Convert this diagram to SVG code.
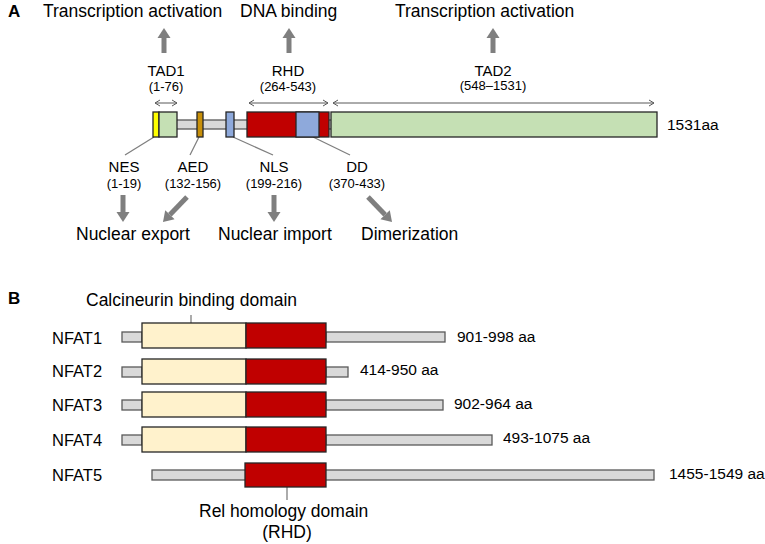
<svg xmlns="http://www.w3.org/2000/svg" width="765" height="544" viewBox="0 0 765 544">
<style>
text{font-family:"Liberation Sans",Arial,sans-serif;fill:#000}
.big{font-size:17.5px}
.lab{font-size:15px;text-anchor:middle}
.rng{font-size:13px;text-anchor:middle}
.pl{font-size:17px;font-weight:bold}
.nf{font-size:16.5px}
.aa{font-size:15.5px}
.box{stroke:#262626;stroke-width:1.3}
.bar{fill:#D9D9D9;stroke:#595959;stroke-width:1.3}
.lead{stroke:#7F7F7F;stroke-width:1.3;fill:none}
.fat{stroke:#7F7F7F;stroke-width:5;fill:none;marker-end:url(#head)}
.thin{stroke:#595959;stroke-width:1;fill:none;marker-start:url(#open);marker-end:url(#open)}
</style>
<defs>
<marker id="head" markerUnits="userSpaceOnUse" markerWidth="11" markerHeight="14" refX="0" refY="6.5" orient="auto" overflow="visible"><path d="M0,0 L10,6.5 L0,13 Z" fill="#7F7F7F"/></marker>
<marker id="open" markerUnits="userSpaceOnUse" markerWidth="8" markerHeight="8" refX="5" refY="3" orient="auto-start-reverse" overflow="visible"><path d="M0,0 L5,3 L0,6" fill="none" stroke="#595959" stroke-width="1"/></marker>
</defs>

<!-- Panel A -->
<text class="pl" x="8" y="17">A</text>
<text class="big" x="43" y="17">Transcription activation</text>
<text class="big" x="240" y="17">DNA binding</text>
<text class="big" x="395" y="17">Transcription activation</text>

<g id="connectors">
<line class="fat" x1="164" y1="53" x2="164" y2="38"/>
<line class="fat" x1="289" y1="53" x2="289" y2="38"/>
<line class="fat" x1="493" y1="53" x2="493" y2="38"/>
<line class="fat" x1="123" y1="195" x2="123" y2="212"/>
<line class="fat" x1="274" y1="195" x2="274" y2="212"/>
<line class="fat" x1="187" y1="197" x2="169.9" y2="214.8"/>
<line class="fat" x1="368" y1="197" x2="385.1" y2="214.8"/>
<line class="thin" x1="155" y1="103" x2="177" y2="103"/>
<line class="thin" x1="249" y1="103" x2="328" y2="103"/>
<line class="thin" x1="333" y1="103" x2="654" y2="103"/>
<line class="lead" x1="154" y1="137" x2="125" y2="155"/>
<line class="lead" x1="199" y1="137" x2="190" y2="155"/>
<line class="lead" x1="233" y1="137" x2="273" y2="155"/>
<line class="lead" x1="313" y1="137" x2="350" y2="155"/>
<line class="lead" x1="191" y1="315" x2="191" y2="323"/>
<line class="lead" x1="287" y1="487" x2="287" y2="500"/>
</g>

<g id="tad1-label"><text class="lab" x="166" y="76">TAD1</text><text class="rng" x="166" y="91">(1-76)</text></g>
<g id="rhd-label"><text class="lab" x="288" y="76">RHD</text><text class="rng" x="288" y="91">(264-543)</text></g>
<g id="tad2-label"><text class="lab" x="493" y="76">TAD2</text><text class="rng" x="493" y="90">(548–1531)</text></g>

<g id="protein-a">
<rect class="bar" x="176" y="120" width="72" height="9"/>
<rect class="bar" x="328" y="120" width="4" height="9"/>
<rect class="box" x="153" y="112" width="6" height="25" fill="#FFFF00"/>
<rect class="box" x="159" y="112" width="18" height="25" fill="#C5E0B4"/>
<rect class="box" x="197" y="112" width="6" height="25" fill="#C8900A"/>
<rect class="box" x="226" y="112" width="8" height="25" fill="#8EA9DB"/>
<rect class="box" x="247" y="112" width="82" height="25" fill="#C00000"/>
<rect class="box" x="296" y="112" width="23" height="25" fill="#8EA9DB"/>
<rect class="box" x="331" y="112" width="326" height="25" fill="#C5E0B4"/>
<text class="aa" x="667" y="130">1531aa</text>
</g>

<g id="nes"><text class="lab" x="124" y="172">NES</text><text class="rng" x="124" y="188">(1-19)</text></g>
<g id="aed"><text class="lab" x="193" y="172">AED</text><text class="rng" x="193" y="188">(132-156)</text></g>
<g id="nls"><text class="lab" x="274" y="172">NLS</text><text class="rng" x="274" y="188">(199-216)</text></g>
<g id="dd"><text class="lab" x="357" y="172">DD</text><text class="rng" x="357" y="188">(370-433)</text></g>

<text class="big" x="76" y="240">Nuclear export</text>
<text class="big" x="218" y="240">Nuclear import</text>
<text class="big" x="361" y="240">Dimerization</text>

<!-- Panel B -->
<text class="pl" x="8" y="304">B</text>
<text class="big" x="86" y="306">Calcineurin binding domain</text>

<g id="nfat1">
<rect class="bar" x="122" y="332" width="20" height="10"/>
<rect class="bar" x="326" y="332" width="119" height="10"/>
<rect class="box" x="142" y="323" width="104" height="25" fill="#FFF2CC"/>
<rect class="box" x="246" y="323" width="80" height="25" fill="#C00000"/>
<text class="nf" x="52" y="344">NFAT1</text>
<text class="aa" x="457" y="342">901-998 aa</text>
</g>
<g id="nfat2">
<rect class="bar" x="122" y="367" width="20" height="10"/>
<rect class="bar" x="326" y="367" width="22" height="10"/>
<rect class="box" x="142" y="359" width="104" height="25" fill="#FFF2CC"/>
<rect class="box" x="246" y="359" width="80" height="25" fill="#C00000"/>
<text class="nf" x="52" y="377">NFAT2</text>
<text class="aa" x="360" y="375">414-950 aa</text>
</g>
<g id="nfat3">
<rect class="bar" x="122" y="400" width="20" height="10"/>
<rect class="bar" x="326" y="400" width="117" height="10"/>
<rect class="box" x="142" y="392" width="104" height="25" fill="#FFF2CC"/>
<rect class="box" x="246" y="392" width="80" height="25" fill="#C00000"/>
<text class="nf" x="52" y="411">NFAT3</text>
<text class="aa" x="454" y="409">902-964 aa</text>
</g>
<g id="nfat4">
<rect class="bar" x="122" y="435" width="20" height="10"/>
<rect class="bar" x="326" y="435" width="166" height="10"/>
<rect class="box" x="142" y="427" width="104" height="25" fill="#FFF2CC"/>
<rect class="box" x="246" y="427" width="80" height="25" fill="#C00000"/>
<text class="nf" x="52" y="446">NFAT4</text>
<text class="aa" x="503" y="443">493-1075 aa</text>
</g>
<g id="nfat5">
<rect class="bar" x="152" y="470" width="502" height="10"/>
<rect class="box" x="245" y="463" width="81" height="24" fill="#C00000"/>
<text class="nf" x="52" y="481">NFAT5</text>
<text class="aa" x="669" y="479">1455-1549 aa</text>
</g>

<g id="rhd-note">
<text class="big" x="199" y="517">Rel homology domain</text>
<text class="big" x="287" y="538" text-anchor="middle">(RHD)</text>
</g>
</svg>
